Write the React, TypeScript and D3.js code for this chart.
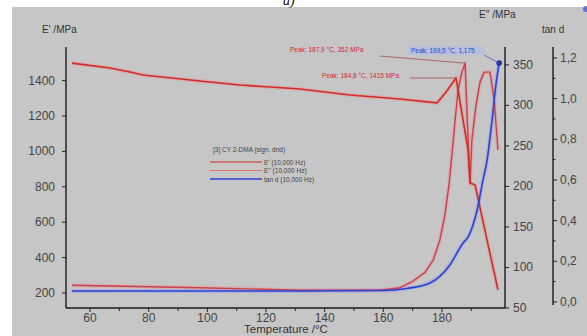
import * as d3 from "d3";

// temperature axis (°C)
const xTicks = [60, 80, 100, 120, 140, 160, 180];
const xMinor = [70, 90, 110, 130, 150, 170, 190];
const eTicks = [200, 400, 600, 800, 1000, 1200, 1400];
const e2Ticks = [50, 100, 150, 200, 250, 300, 350];
const tanTicks = [0, 0.2, 0.4, 0.6, 0.8, 1.0, 1.2];
const tanMinor = [0.1, 0.3, 0.5, 0.7, 0.9, 1.1];

// E' storage modulus (left axis)
const ePrimeT = [53.8, 66.8, 73.6, 78.1, 97.5, 111.1, 121.4, 131.6, 148.6, 165.7, 178.3, 181.4, 184.8, 187.2, 188.9, 189.6, 191.3, 195.0, 199.1];
const ePrimeV = [1499, 1471, 1449, 1432, 1398, 1375, 1364, 1353, 1319, 1296, 1274, 1336, 1415, 1177, 1008, 821, 810, 528, 217];

// E'' loss modulus (right axis)
const eLossT = [53.8, 97.5, 131.6, 158.9, 165.7, 170.1, 174.2, 177.0, 179.3, 181.0, 182.4, 183.4, 184.5, 185.5, 186.8, 187.9, 188.5, 189.6, 190.2, 191.6, 193.0, 194.4, 196.4, 197.8, 199.1];
const eLossV = [78, 75, 72, 72, 75, 83, 94, 109, 134, 165, 202, 239, 282, 319, 341, 352, 294, 204, 257, 300, 329, 341, 341, 307, 245];

// tan d (far right axis)
const tanT = [53.8, 97.5, 131.6, 160.0, 168.0, 175.9, 182.7, 187.2, 188.9, 192.0, 194.0, 195.4, 197.1, 198.4, 199.5];
const tanV = [0.054, 0.054, 0.054, 0.056, 0.066, 0.093, 0.182, 0.29, 0.319, 0.452, 0.6, 0.698, 0.895, 1.067, 1.175];

const legendRows = ["E' (10,000 Hz)", "E'' (10,000 Hz)", "tan d (10,000 Hz)"];

const W = 587;
const H = 336;
const FONT = "'Liberation Sans', Arial, sans-serif";
const RED = "#cf2b2b";
const RED2 = "#c9404a";
const BLUE = "#2a43cf";

export default function App() {
  const x = d3.scaleLinear().domain([51.8, 201.5]).range([66, 505]);
  const yE = d3.scaleLinear().domain([115, 1590]).range([308, 47]);
  const yE2 = d3.scaleLinear().domain([50, 372]).range([308, 47]);
  const yTan = d3.scaleLinear().domain([-0.03, 1.254]).range([308, 47]);

  const ePrime = ePrimeT.map((t, i) => [t, ePrimeV[i]] as [number, number]);
  const eLoss = eLossT.map((t, i) => [t, eLossV[i]] as [number, number]);
  const tan = tanT.map((t, i) => [t, tanV[i]] as [number, number]);

  const lineE = d3.line<[number, number]>().x((d) => x(d[0])).y((d) => yE(d[1]));
  const lineE2 = d3.line<[number, number]>().x((d) => x(d[0])).y((d) => yE2(d[1]));
  const lineTan = d3
    .line<[number, number]>()
    .x((d) => x(d[0]))
    .y((d) => yTan(d[1]))
    .curve(d3.curveMonotoneX);

  const fmt = (v: number) => v.toFixed(1).replace(".", ",");

  // peaks for the annotations
  const pE = ePrime[12];
  const pE2 = eLoss[15];
  const pTan = tan[tan.length - 1];

  return (
    <svg width={W} height={H} style={{ position: "absolute", left: 0, top: 0 }} fontFamily={FONT}>
      <rect width={W} height={H} fill="#ffffff" />
      <rect x={12} y={7} width={W - 12} height={H - 7} fill="#c6c6c6" />
      <text x={283} y={5} fontFamily="'Liberation Serif', serif" fontStyle="italic" fontSize={14} fill="#111">a)</text>
      <circle cx={586} cy={9} r={3} fill="#3050d0" opacity={0.7} />

      {/* axis titles */}
      <text x={42} y={33} fontSize={10} fill="#333">E' /MPa</text>
      <text x={479} y={18} fontSize={10} fill="#333">E'' /MPa</text>
      <text x={542} y={33} fontSize={10} fill="#333">tan d</text>
      <text x={286} y={333} fontSize={11.5} fill="#333" textAnchor="middle">Temperature /°C</text>

      {/* legend */}
      <g fontSize={6.5} fill="#444">
        <text x={213} y={152}>[3] CY 2-DMA (sign. dnd)</text>
        {legendRows.map((r, i) => (
          <g key={r}>
            <line x1={210} x2={262} y1={162 + i * 8.5} y2={162 + i * 8.5}
              stroke={i === 2 ? BLUE : i === 0 ? RED : "#e07060"} strokeWidth={i === 2 ? 1.4 : 1} />
            <text x={264} y={164.5 + i * 8.5}>{r}</text>
          </g>
        ))}
      </g>

      {/* curves with soft halo */}
      <g fill="none" strokeLinejoin="round">
        <path d={lineE2(eLoss) ?? ""} stroke="#e88" strokeOpacity={0.35} strokeWidth={4} />
        <path d={lineE(ePrime) ?? ""} stroke="#f08080" strokeOpacity={0.35} strokeWidth={4} />
        <path d={lineTan(tan) ?? ""} stroke="#88f" strokeOpacity={0.35} strokeWidth={4} />
        <path d={lineE2(eLoss) ?? ""} stroke={RED2} strokeWidth={1.4} />
        <path d={lineE(ePrime) ?? ""} stroke={RED} strokeWidth={1.6} />
        <path d={lineTan(tan) ?? ""} stroke={BLUE} strokeWidth={1.6} />
      </g>
      <circle cx={x(pTan[0])} cy={yTan(pTan[1])} r={2.8} fill="#2030a0" />

      {/* peak annotations */}
      <g fontSize={6.5}>
        <line x1={380} y1={56} x2={x(pE2[0])} y2={yE2(pE2[1])} stroke="#a05050" strokeWidth={0.8} />
        <text x={290} y={52} fill={RED}>{`Peak: ${fmt(pE2[0])} °C, ${Math.round(pE2[1])} MPa`}</text>
        <line x1={410} y1={78} x2={x(pE[0])} y2={yE(pE[1])} stroke="#a05050" strokeWidth={0.8} />
        <text x={322} y={78} fill={RED}>{`Peak: ${fmt(pE[0])} °C, ${Math.round(pE[1])} MPa`}</text>
        <rect x={408} y={46} width={76} height={9} fill="#b4bde0" opacity={0.8} />
        <line x1={484} y1={55} x2={x(pTan[0])} y2={yTan(pTan[1])} stroke="#5060b0" strokeWidth={0.8} />
        <text x={411} y={52.5} fill={BLUE}>{`Peak: ${fmt(pTan[0])} °C, ${pTan[1].toFixed(3).replace(".", ",")}`}</text>
      </g>

      {/* axes */}
      <g stroke="#1a1a1a" strokeWidth={1.4}>
        <line x1={66} x2={66} y1={47} y2={308} />
        <line x1={66} x2={505} y1={308} y2={308} />
        <line x1={505} x2={505} y1={47} y2={308} />
        <line x1={553} x2={553} y1={47} y2={305} />
      </g>
      <g fontSize={12} fill="#444">
        {eTicks.map((t) => (
          <g key={t}>
            <line x1={62} x2={66} y1={yE(t)} y2={yE(t)} stroke="#222" />
            <text x={55} y={yE(t) + 4} textAnchor="end">{t}</text>
          </g>
        ))}
        {xTicks.map((t) => (
          <g key={t}>
            <line x1={x(t)} x2={x(t)} y1={308} y2={312} stroke="#222" />
            <text x={x(t)} y={322} textAnchor="middle">{t}</text>
          </g>
        ))}
        {xMinor.map((t) => (
          <line key={t} x1={x(t)} x2={x(t)} y1={308} y2={311} stroke="#222" />
        ))}
        {e2Ticks.map((t) => (
          <g key={t}>
            <line x1={505} x2={509} y1={yE2(t)} y2={yE2(t)} stroke="#222" />
            <text x={513} y={yE2(t) + 4}>{t}</text>
          </g>
        ))}
        {tanTicks.map((t) => (
          <g key={t}>
            <line x1={553} x2={557} y1={yTan(t)} y2={yTan(t)} stroke="#222" />
            <text x={560} y={yTan(t) + 4}>{t.toFixed(1).replace(".", ",")}</text>
          </g>
        ))}
        {tanMinor.map((t) => (
          <line key={t} x1={553} x2={555.5} y1={yTan(t)} y2={yTan(t)} stroke="#222" />
        ))}
      </g>
    </svg>
  );
}
